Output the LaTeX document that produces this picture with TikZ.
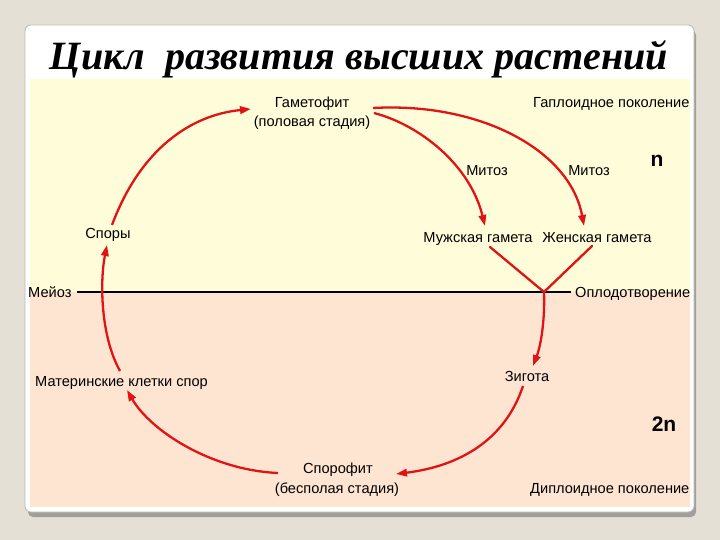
\documentclass[tikz,border=0pt]{standalone}
\usepackage{fontspec}
\setmainfont{Liberation Sans}
\newfontfamily\titlefont{Liberation Serif}
\usetikzlibrary{arrows.meta}
\definecolor{bgout}{HTML}{E4E0D6}
\definecolor{cardedge}{HTML}{BDB9B1}
\definecolor{shadowc}{HTML}{A29E99}
\definecolor{yel}{HTML}{FFFCD9}
\definecolor{peach}{HTML}{FEE5D2}
\definecolor{arrred}{HTML}{E01414}
\tikzset{
  lbl/.style={inner sep=0pt, font=\fontsize{14.6}{16}\selectfont},
  ploidy/.style={inner sep=0pt, font=\fontsize{21}{24}\selectfont\bfseries},
  cyc/.style={draw=arrred, line width=2.3pt, -{Triangle[length=11pt,width=7.5pt]}},
  fus/.style={draw=arrred, line width=2.3pt, line cap=round}
}
\begin{document}
\begin{tikzpicture}[x=1pt,y=-1pt]
\useasboundingbox (0,0) rectangle (720,540);
\fill[bgout] (0,0) rectangle (720,540);
% card and shadow
\fill[shadowc, rounded corners=5pt] (28,30) rectangle (696,517);
\filldraw[fill=white, draw=cardedge, line width=0.8pt, rounded corners=6pt] (25,25) rectangle (694,512);
\fill[yel] (30,79) rectangle (690,292);
\fill[peach] (30,292) rectangle (690,507);
% title
\node[inner sep=0pt, anchor=base] (title) at (359,70)
  {\resizebox{618pt}{!}{\titlefont\bfseries\itshape Цикл\ \ развития высших растений}};
% labels
\node[lbl, anchor=base] (gam) at (312,108) {Гаметофит};
\node[lbl, anchor=base] (gam2) at (312,127) {(половая стадия)};
\node[lbl, anchor=base west] (hapl) at (533,108) {Гаплоидное поколение};
\node[ploidy, anchor=base] (nn) at (657,167) {n};
\node[lbl, anchor=base] (mit1) at (487,176) {Митоз};
\node[lbl, anchor=base] (mit2) at (589,176) {Митоз};
\node[lbl, anchor=base] (male) at (478,242) {Мужская гамета};
\node[lbl, anchor=base] (female) at (597,242) {Женская гамета};
\node[lbl, anchor=base] (spores) at (108,238) {Споры};
\node[lbl, anchor=base west] (meio) at (28,297) {Мейоз};
\node[lbl, anchor=base west] (fert) at (575,297) {Оплодотворение};
\node[lbl, anchor=base] (zyg) at (527,381) {Зигота};
\node[lbl, anchor=base west] (mother) at (35,386) {Материнские клетки спор};
\node[ploidy, anchor=base] (twon) at (664,431) {2n};
\node[lbl, anchor=base] (spor) at (338,473) {Спорофит};
\node[lbl, anchor=base] (spor2) at (337,493) {(бесполая стадия)};
\node[lbl, anchor=base west] (dipl) at (530,493) {Диплоидное поколение};
% coordinates
\coordinate (junc) at (544,292);
\coordinate (lineL) at (77,292);
\coordinate (lineR) at (571,292);
\coordinate (spTop) at (112,225);
\coordinate (gamIn) at (251,109);
\coordinate (gamOutA) at (373,108);
\coordinate (gamOutB) at (374,113);
\coordinate (femIn) at (584,226);
\coordinate (maleIn) at (485,226);
\coordinate (maleOut) at (490,247);
\coordinate (femOut) at (592,246);
\coordinate (zygIn) at (533,366);
\coordinate (zygOut) at (523,386);
\coordinate (sporIn) at (396,474);
\coordinate (sporOut) at (278,473);
\coordinate (motherIn) at (127,390);
\coordinate (motherOut) at (120,371);
\coordinate (spBot) at (107,245);
% meiosis / fertilization line
\draw[line width=2pt] (lineL) -- (lineR);
% cycle arrows
\draw[cyc] (spTop) .. controls (140,150) and (190,115) .. (gamIn);
\draw[cyc] (gamOutA) .. controls (480,102) and (570,150) .. (femIn);
\draw[cyc] (gamOutB) .. controls (420,125) and (470,165) .. (maleIn);
\draw[fus] (maleOut) -- (junc);
\draw[fus] (femOut) -- (junc);
\draw[cyc] (junc) .. controls (545,320) and (541,345) .. (zygIn);
\draw[cyc] (zygOut) .. controls (505,440) and (460,466) .. (sporIn);
\draw[cyc] (sporOut) .. controls (210,470) and (150,430) .. (motherIn);
\draw[cyc] (motherOut) .. controls (100,335) and (100,280) .. (spBot);
\end{tikzpicture}
\end{document}
